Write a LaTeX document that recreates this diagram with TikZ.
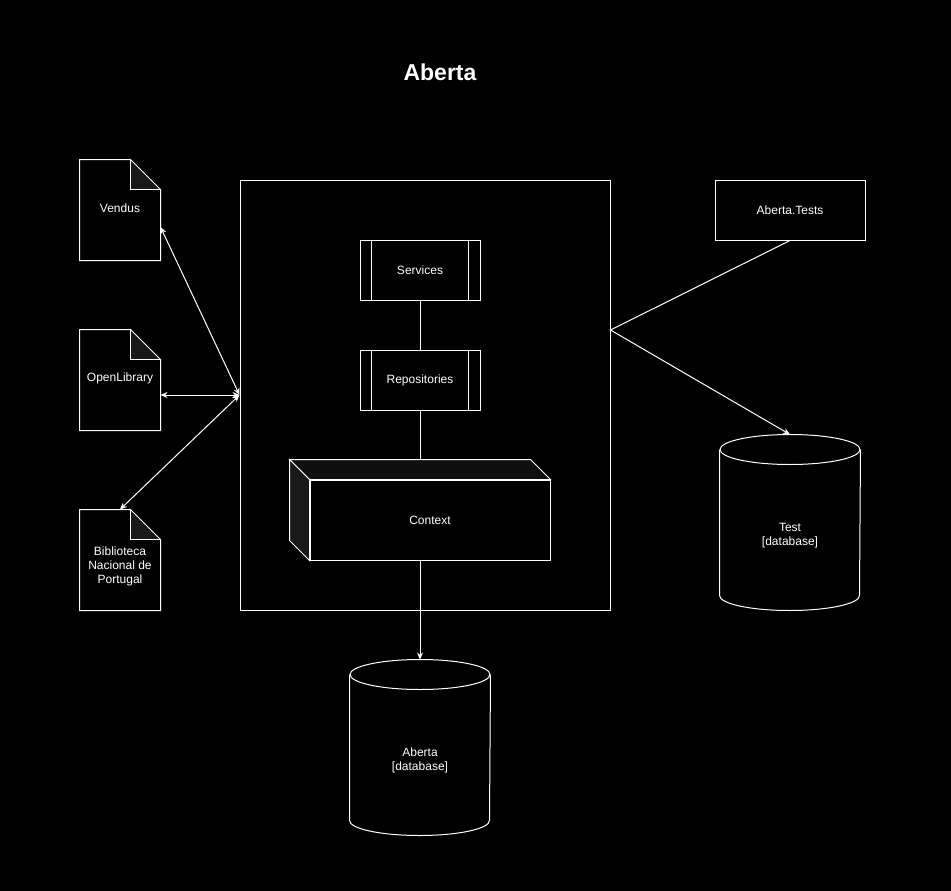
\documentclass[tikz,border=0pt]{standalone}
\usepackage{fontspec}
\setmainfont{Liberation Sans}
\usetikzlibrary{arrows.meta,positioning}
\begin{document}
\begin{tikzpicture}[x=1pt,y=-1pt,
    line width=1pt,
    every node/.style={text=white,font=\fontsize{12}{14}\selectfont,align=center},
    doc/.style={minimum width=80pt,minimum height=100pt,inner sep=0pt},
    box/.style={draw=white,minimum width=#1,minimum height=60pt,inner sep=0pt},
    box/.default=120pt,
    db/.style={minimum width=140pt,minimum height=175pt,inner sep=0pt},
    link/.style={draw=white,{Stealth[length=7pt,width=6pt]}-{Stealth[length=7pt,width=6pt]}},
    flow/.style={draw=white,-{Stealth[length=7pt,width=6pt]}}]
  \def\fold{30pt}
  % background and page size
  \fill[black] (0,0) rectangle (951,891);
  \useasboundingbox (0,0) rectangle (951,891);
  \colorlet{shadeA}{white!10!black}
  \colorlet{shadeB}{white!6!black}

  \node[font=\bfseries\fontsize{23}{26}\selectfont] (title) at (440,72) {Aberta};

  % external sources
  \foreach \n/\y/\o/\t in {vendus/210/2/Vendus,
      openlib/380/2/OpenLibrary,
      bnp/560/-6/{Biblioteca\\Nacional de\\Portugal}}{
    \node[doc] (\n) at (120,\y) {};
    \node (\n-lbl) at ([yshift=\o pt]\n.center) {\t};
    \fill[shadeA] ([xshift=-\fold]\n.north east) -- ([yshift=-\fold]\n.north east)
      -- ([xshift=-\fold,yshift=-\fold]\n.north east) -- cycle;
    \draw[white] (\n.north west) -- ([xshift=-\fold]\n.north east)
      -- ([yshift=-\fold]\n.north east) -- (\n.south east) -- (\n.south west) -- cycle;
    \draw[white] ([xshift=-\fold]\n.north east) -- ([xshift=-\fold,yshift=-\fold]\n.north east)
      -- ([yshift=-\fold]\n.north east);
  }

  % system container
  \node[draw=white,minimum width=370pt,minimum height=430pt,inner sep=0pt] (system) at (425,395) {};
  \node[box] (services) at (420,270) {Services};
  \node[box] (repos) at (420,380) {Repositories};
  \foreach \n in {services,repos}{
    \draw[white] ([xshift=12pt]\n.north west) -- ([xshift=12pt]\n.south west);
    \draw[white] ([xshift=-12pt]\n.north east) -- ([xshift=-12pt]\n.south east);
  }

  % context as a 3d box
  \node[box=240pt,minimum height=80pt] (ctx) at (430,520) {Context};
  \coordinate (ctxtop) at ([yshift=20pt]ctx.north);
  \filldraw[fill=shadeB,draw=white] ([shift={(-20pt,20pt)}]ctx.north west) -- ([shift={(-20pt,20pt)}]ctx.north east)
    -- (ctx.north east) -- (ctx.north west) -- cycle;
  \filldraw[fill=shadeA,draw=white] ([shift={(-20pt,20pt)}]ctx.north west) -- (ctx.north west)
    -- (ctx.south west) -- ([shift={(-20pt,20pt)}]ctx.south west) -- cycle;

  % tests
  \node[box=150pt] (tests) at (790,210) {Aberta.Tests};

  % databases
  \node[db] (abertadb) at (420,747.5) {};
  \node[db] (testdb) at (790,522.5) {};
  \foreach \d in {abertadb,testdb}{
    \draw[white] ([yshift=-15pt]\d.north west) -- ([yshift=15pt]\d.south west)
      arc[start angle=180,end angle=360,x radius=70pt,y radius=15pt]
      -- ([yshift=-15pt]\d.north east);
    \draw[white] ([yshift=-15pt]\d.north) ellipse[x radius=70pt,y radius=15pt];
  }
  \node (abertalbl) at ([yshift=-13pt]abertadb.center) {Aberta\\{[database]}};
  \node (testlbl) at ([yshift=-13pt]testdb.center) {Test\\{[database]}};

  % connectors
  \coordinate (hub) at (system.west);
  \coordinate (junction) at ([yshift=65pt]system.east);
  \draw[link] ([yshift=-17pt]vendus.east) -- (hub);
  \draw[link] (hub -| openlib.east) -- (hub);
  \draw[link] (bnp.north) -- (hub);
  \draw[white] (services.south) -- (repos.north);
  \draw[white] (repos.south) -- (repos.south |- ctxtop);
  \draw[flow] (abertadb.north |- ctx.south) -- (abertadb.north);
  \draw[flow] (tests.south) -- (junction) -- (testdb.north);
\end{tikzpicture}
\end{document}
